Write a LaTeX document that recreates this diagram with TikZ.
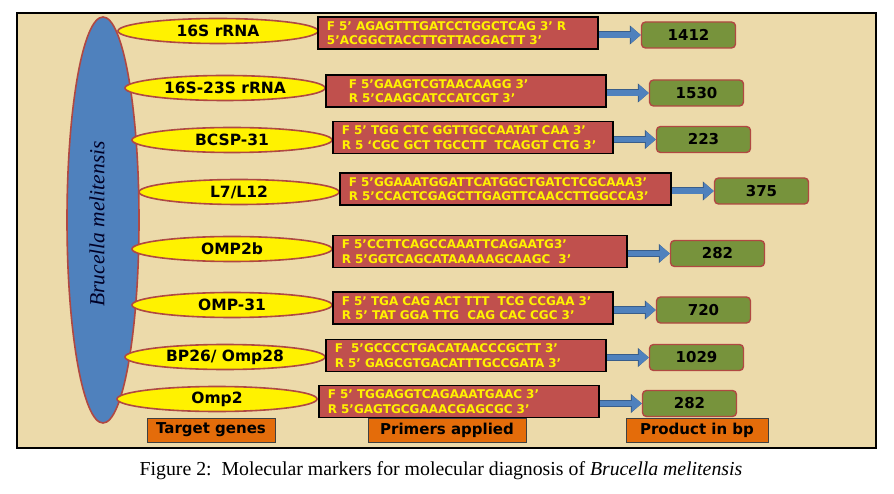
\documentclass[tikz,border=0pt]{standalone}
\usepackage{fontspec}
\setmainfont{Liberation Serif}
\setsansfont{DejaVu Sans}
\usepackage{xcolor}
\usetikzlibrary{shapes.geometric,arrows.meta,positioning,calc}

\definecolor{parchment}{RGB}{236,218,170}
\definecolor{hostblue}{RGB}{79,129,189}
\definecolor{rimred}{RGB}{176,72,66}
\definecolor{primerred}{RGB}{192,80,77}
\definecolor{productgreen}{RGB}{119,147,60}
\definecolor{labelorange}{RGB}{228,108,10}
\definecolor{arrowedge}{RGB}{56,93,138}

\begin{document}
\begin{tikzpicture}[x=1pt,y=-1pt,
	gene/.style={draw=rimred, line width=1.6pt, fill=yellow, ellipse, minimum width=200pt, minimum height=25pt, inner sep=0pt, font=\sffamily\bfseries\fontsize{15.5}{17}\selectfont},
	primer/.style={draw=black, line width=1.8pt, fill=primerred, rectangle, anchor=west, minimum height=32pt, inner xsep=9pt, inner ysep=0pt, text width=#1, align=left, text=yellow, font=\sffamily\bfseries\fontsize{12}{14.5}\selectfont},
	product/.style={draw=rimred, line width=1.4pt, fill=productgreen, rounded corners=4pt, minimum width=94pt, minimum height=26pt, inner sep=0pt, font=\sffamily\bfseries\fontsize{15}{17}\selectfont},
	heading/.style={draw=black!75, line width=0.8pt, fill=labelorange, minimum height=24pt, inner sep=0pt, font=\sffamily\bfseries\fontsize{15}{17}\selectfont},
	yield/.style={draw=hostblue, line width=5.5pt, -{Triangle[length=10pt,width=16pt]}, preaction={draw=arrowedge, line width=7pt, -{Triangle[length=11pt,width=18.5pt]}}}]
	\useasboundingbox (0,0) rectangle (894,494);
	\draw[line width=1.3pt, fill=parchment] (17,13) rectangle (876,448);

	\node[draw=rimred, line width=1.6pt, fill=hostblue, ellipse, minimum width=72pt, minimum height=406pt, inner sep=0pt] (host) at (103,220) {};
	\node[rotate=90, text=black!85!blue, font=\itshape\fontsize{21.5}{24}\selectfont] (species) at (97,224) {Brucella melitensis};

	\node[gene] (n1) at (218,31) {16S rRNA};
	\node[gene] (n2) at (225,88) {16S-23S rRNA};
	\node[gene] (n3) at (232,140) {BCSP-31};
	\node[gene] (n4) at (239,192) {L7/L12};
	\node[gene] (n5) at (232,249) {OMP2b};
	\node[gene] (n6) at (232,305) {OMP-31};
	\node[gene] (n7) at (225,357) {BP26/ Omp28};
	\node[gene] (n8) at (217,399) {Omp2};

	\node[primer=262pt] (p1) at (317,33) {F 5’ AGAGTTTGATCCTGGCTCAG 3’ R\\5’ACGGCTACCTTGTTACGACTT 3’};
	\node[primer=262pt] (p2) at (325,91) {\hspace*{14pt}F 5’GAAGTCGTAACAAGG 3’\\\hspace*{14pt}R 5’CAAGCATCCATCGT 3’};
	\node[primer=262pt] (p3) at (332,137.5) {F 5’ TGG CTC GGTTGCCAATAT CAA 3’\\R 5 ‘CGC GCT TGCCTT~ TCAGGT CTG 3’};
	\node[primer=313pt] (p4) at (339,189) {F 5’GGAAATGGATTCATGGCTGATCTCGCAAA3’\\R 5’CCACTCGAGCTTGAGTTCAACCTTGGCCA3’};
	\node[primer=276pt] (p5) at (332,251.5) {F 5’CCTTCAGCCAAATTCAGAATG3’\\R 5’GGTCAGCATAAAAAGCAAGC~ 3’};
	\node[primer=262pt] (p6) at (332,308) {F 5’ TGA CAG ACT TTT~ TCG CCGAA 3’\\R 5’ TAT GGA TTG~ CAG CAC CGC 3’};
	\node[primer=262pt] (p7) at (325,355.5) {F~ 5’GCCCCTGACATAACCCGCTT 3’\\R 5’ GAGCGTGACATTTGCCGATA 3’};
	\node[primer=262pt] (p8) at (318,401.5) {F 5’ TGGAGGTCAGAAATGAAC 3’\\R 5’GAGTGCGAAACGAGCGC 3’};

	\node[product, right=42pt of p1, yshift=-2pt] (g1) {1412};
	\node[product, right=42pt of p2, yshift=-2pt] (g2) {1530};
	\node[product, right=42pt of p3, yshift=-2pt] (g3) {223};
	\node[product, right=42pt of p4, yshift=-2pt] (g4) {375};
	\node[product, right=42pt of p5, yshift=-2pt] (g5) {282};
	\node[product, right=42pt of p6, yshift=-2pt] (g6) {720};
	\node[product, right=42pt of p7, yshift=-2pt] (g7) {1029};
	\node[product, right=42pt of p8, yshift=-2pt] (g8) {282};

	\draw[yield] (p1.east |- g1.west) -- (g1.west);
	\draw[yield] (p2.east |- g2.west) -- (g2.west);
	\draw[yield] (p3.east |- g3.west) -- (g3.west);
	\draw[yield] (p4.east |- g4.west) -- (g4.west);
	\draw[yield] (p5.east |- g5.west) -- (g5.west);
	\draw[yield] (p6.east |- g6.west) -- (g6.west);
	\draw[yield] (p7.east |- g7.west) -- (g7.west);
	\draw[yield] (p8.east |- g8.west) -- (g8.west);

	\node[heading, minimum width=128pt] (hgenes) at (211,430) {Target genes};
	\node[heading, minimum width=158pt] (hprimers) at (447,430) {Primers applied};
	\node[heading, minimum width=142pt] (hproduct) at (697,430) {Product in bp};

	\node[font=\fontsize{19.8}{22}\selectfont] (caption) at (441,471) {Figure 2:\ \ Molecular markers for molecular diagnosis of \textit{Brucella melitensis}};
\end{tikzpicture}
\end{document}
